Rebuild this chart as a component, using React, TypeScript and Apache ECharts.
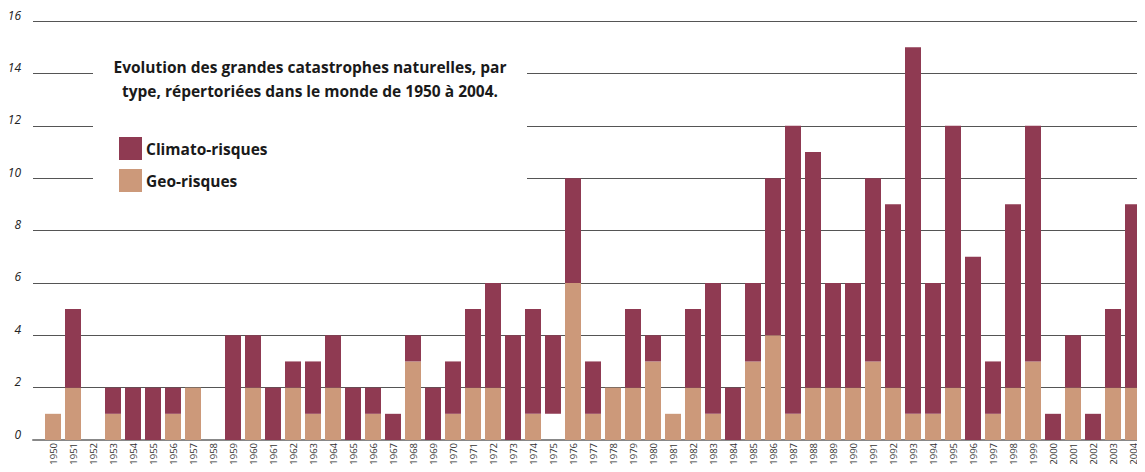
import React, { useEffect, useRef } from "react";
import * as echarts from "echarts";

const years = [
  "1950","1951","1952","1953","1954","1955","1956","1957","1958","1959",
  "1960","1961","1962","1963","1964","1965","1966","1967","1968","1969",
  "1970","1971","1972","1973","1974","1975","1976","1977","1978","1979",
  "1980","1981","1982","1983","1984","1985","1986","1987","1988","1989",
  "1990","1991","1992","1993","1994","1995","1996","1997","1998","1999",
  "2000","2001","2002","2003","2004",
];

const geoRisques = [
  1,2,0,1,0,0,1,2,0,0,
  2,0,2,1,2,0,1,0,3,0,
  1,2,2,0,1,0,6,1,2,2,
  3,1,2,1,0,3,4,1,2,2,
  2,3,2,1,1,2,0,1,2,3,
  0,2,0,2,2,
];

// blank gap under the 1975 bar in the original
const gap = [
  0,0,0,0,0,0,0,0,0,0,
  0,0,0,0,0,0,0,0,0,0,
  0,0,0,0,0,1,0,0,0,0,
  0,0,0,0,0,0,0,0,0,0,
  0,0,0,0,0,0,0,0,0,0,
  0,0,0,0,0,
];

const climatoRisques = [
  0,3,0,1,2,2,1,0,0,4,
  2,2,1,2,2,2,1,1,1,2,
  2,3,4,4,4,3,4,2,0,3,
  1,0,3,5,2,3,6,11,9,4,
  4,7,7,14,5,10,7,2,7,9,
  1,2,1,3,7,
];

const yTicks = [0, 2, 4, 6, 8, 10, 12, 14, 16];

const titleText =
  "Evolution des grandes catastrophes naturelles, par\ntype, répertoriées dans le monde de 1950 à 2004.";

const CLIMATO = "#8f3a52";
const GEO = "#cc997a";

export default function App() {
  const ref = useRef<HTMLDivElement>(null);
  useEffect(() => {
    if (!ref.current) return;
    const chart = echarts.init(ref.current, null, { renderer: "svg" });
    const yMax = yTicks[yTicks.length - 1];
    chart.setOption({
      animation: false,
      backgroundColor: "#ffffff",
      textStyle: { fontFamily: "Open Sans" },
      title: {
        text: titleText,
        left: 310,
        top: 55,
        textAlign: "center",
        padding: 0,
        z: 10,
        textStyle: {
          fontFamily: "Open Sans",
          fontWeight: "bold",
          fontSize: 15.5,
          lineHeight: 24,
          color: "#1a1a1a",
        },
      },
      legend: {
        data: ["Climato-risques", "Geo-risques"],
        orient: "vertical",
        left: 119,
        top: 137,
        padding: 0,
        itemWidth: 23,
        itemHeight: 23,
        itemGap: 9,
        icon: "rect",
        z: 10,
        textStyle: {
          fontFamily: "Open Sans",
          fontWeight: "bold",
          fontSize: 15.5,
          color: "#1a1a1a",
          padding: [7, 0, 0, -1],
        },
      },
      graphic: [
        {
          type: "rect",
          z: 1,
          shape: { x: 93, y: 50, width: 434, height: 150 },
          style: { fill: "#ffffff" },
        },
      ],
      grid: [
        { left: 33, right: 0, top: 21, bottom: 32 },
        { left: 43, right: 2, top: 21, bottom: 32 },
      ],
      xAxis: [
        {
          type: "category",
          gridIndex: 0,
          data: years,
          axisLine: { show: true, lineStyle: { color: "#888888", width: 2 } },
          axisTick: { show: false },
          axisLabel: { show: false },
          splitLine: { show: false },
        },
        {
          type: "category",
          gridIndex: 1,
          data: years,
          axisLine: { show: false },
          axisTick: { show: false },
          axisLabel: {
            rotate: 90,
            fontSize: 9.5,
            margin: 3,
            color: "#333333",
            fontFamily: "Open Sans",
            interval: 0,
          },
        },
      ],
      yAxis: [
        {
          type: "value",
          gridIndex: 0,
          min: 0,
          max: yMax,
          interval: 2,
          axisLine: { show: false },
          axisTick: { show: false },
          axisLabel: {
            fontSize: 12,
            fontStyle: "italic",
            color: "#222222",
            margin: 12,
            verticalAlign: "bottom",
            fontFamily: "Open Sans",
          },
          splitLine: { show: true, lineStyle: { color: "#555555", width: 1 } },
        },
        {
          type: "value",
          gridIndex: 1,
          min: 0,
          max: yMax,
          interval: 2,
          axisLine: { show: false },
          axisTick: { show: false },
          axisLabel: { show: false },
          splitLine: { show: false },
        },
      ],
      series: [
        {
          name: "gap",
          type: "bar",
          xAxisIndex: 1,
          yAxisIndex: 1,
          stack: "total",
          data: gap,
          barCategoryGap: "20%",
          itemStyle: { color: "rgba(0,0,0,0)" },
          silent: true,
        },
        {
          name: "Geo-risques",
          type: "bar",
          xAxisIndex: 1,
          yAxisIndex: 1,
          stack: "total",
          data: geoRisques,
          barCategoryGap: "20%",
          itemStyle: { color: GEO },
        },
        {
          name: "Climato-risques",
          type: "bar",
          xAxisIndex: 1,
          yAxisIndex: 1,
          stack: "total",
          data: climatoRisques,
          barCategoryGap: "20%",
          itemStyle: { color: CLIMATO },
        },
      ],
    });
    return () => chart.dispose();
  }, []);
  return <div ref={ref} style={{ width: 1145, height: 472, margin: -8 }} />;
}
